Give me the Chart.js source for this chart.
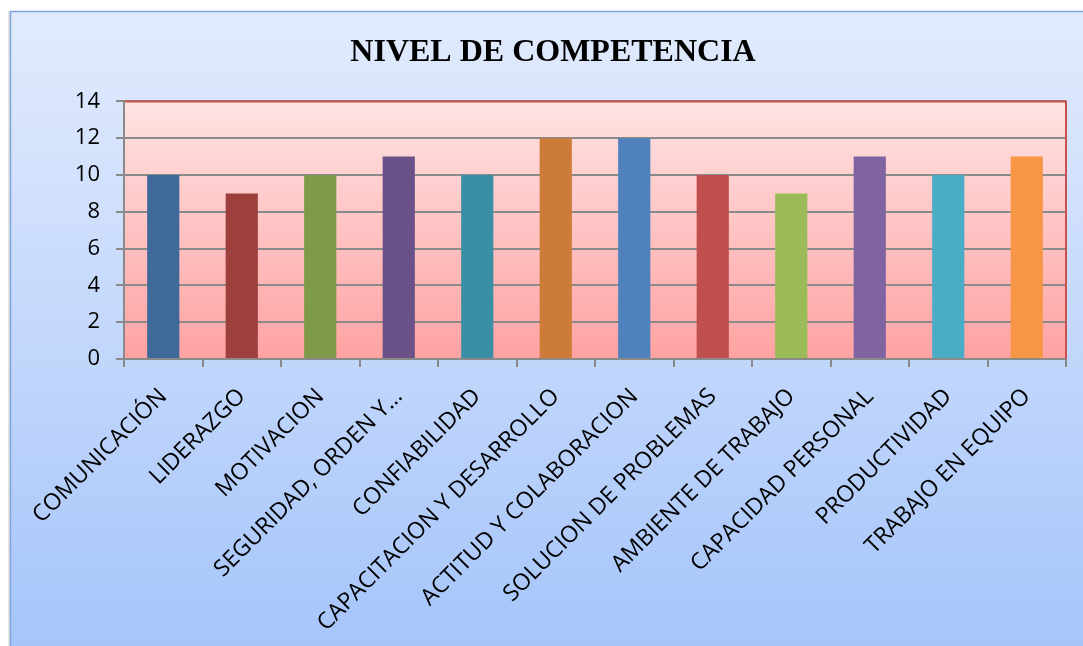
<!DOCTYPE html>
<html>
<head>
<meta charset="utf-8">
<script src="https://cdn.jsdelivr.net/npm/chart.js@4"></script>
<style>
  html, body { margin: 0; padding: 0; background: #fff; }
  #wrap { width: 1083px; height: 646px; position: relative; }
</style>
</head>
<body>
<div id="wrap"><canvas id="canvas_nivel"></canvas></div>
<script>
// competencias evaluadas
var competencias = [
  "COMUNICACIÓN",
  "LIDERAZGO",
  "MOTIVACION",
  "SEGURIDAD, ORDEN Y…",
  "CONFIABILIDAD",
  "CAPACITACION Y DESARROLLO",
  "ACTITUD Y COLABORACION",
  "SOLUCION DE PROBLEMAS",
  "AMBIENTE DE TRABAJO",
  "CAPACIDAD PERSONAL",
  "PRODUCTIVIDAD",
  "TRABAJO EN EQUIPO"
];
var nivel = [10, 9, 10, 11, 10, 12, 12, 10, 9, 11, 10, 11];
var colores = [
  "#3F6998", "#9C3F3D", "#7F9A48", "#6A5187", "#3B8FA4", "#CC7B38",
  "#4F81BD", "#C0504D", "#9BBB59", "#8064A2", "#4BACC6", "#F79646"
];
var ejeY = { min: 0, max: 14, paso: 2 };

// fondo del grafico y del area de trazado
var fondo = {
  id: "fondo",
  beforeDraw: function (chart) {
    var ctx = chart.ctx;
    var w = chart.width, h = chart.height;
    ctx.save();
    ctx.fillStyle = "#ffffff";
    ctx.fillRect(0, 0, w, h);
    var g = ctx.createLinearGradient(0, 11, 0, h);
    g.addColorStop(0, "#E2EBFD");
    g.addColorStop(1, "#A6C5FA");
    ctx.fillStyle = g;
    ctx.fillRect(10, 11, w - 10, h - 11);
    ctx.strokeStyle = "#C8C8C8";
    ctx.lineWidth = 1;
    ctx.beginPath();
    ctx.moveTo(9, h);
    ctx.lineTo(9, 11);
    ctx.stroke();
    ctx.strokeStyle = "#7FA6DA";
    ctx.lineWidth = 1.5;
    ctx.beginPath();
    ctx.moveTo(10.5, h);
    ctx.lineTo(10.5, 11.5);
    ctx.lineTo(w, 11.5);
    ctx.stroke();

    var a = chart.chartArea;
    var p = ctx.createLinearGradient(0, a.top, 0, a.bottom);
    p.addColorStop(0, "#FFE3E3");
    p.addColorStop(1, "#FFA2A2");
    ctx.fillStyle = p;
    ctx.fillRect(a.left, a.top, a.right - a.left, a.bottom - a.top);
    ctx.restore();
  },
  afterDraw: function (chart) {
    var ctx = chart.ctx;
    var a = chart.chartArea;
    ctx.save();
    ctx.strokeStyle = "#C9504D";
    ctx.lineWidth = 2;
    ctx.beginPath();
    ctx.moveTo(a.left + 1, a.top);
    ctx.lineTo(a.right, a.top);
    ctx.lineTo(a.right, a.bottom);
    ctx.stroke();
    ctx.restore();
  }
};

var ctx = document.getElementById("canvas_nivel").getContext("2d");
window.nivel = new Chart(ctx, {
  type: "bar",
  data: {
    labels: competencias,
    datasets: [{
      label: "Nivel",
      data: nivel,
      backgroundColor: colores,
      borderWidth: 0,
      barPercentage: 0.41,
      categoryPercentage: 1.0
    }]
  },
  options: {
    responsive: true,
    maintainAspectRatio: false,
    animation: false,
    layout: { padding: { top: 20, left: 40, right: 17, bottom: 0 } },
    plugins: {
      legend: { display: false },
      tooltip: { enabled: false },
      title: {
        display: true,
        text: "NIVEL DE COMPETENCIA",
        color: "#000",
        font: { family: "'Liberation Serif', 'Times New Roman', serif", size: 32, weight: "bold", lineHeight: 1.2 },
        padding: { top: 14, bottom: 29 }
      }
    },
    scales: {
      x: {
        grid: {
          display: true,
          drawOnChartArea: false,
          offset: true,
          tickLength: 8,
          color: "#8A8A8A",
          lineWidth: 2
        },
        border: { display: true, color: "#8A8A8A", width: 2 },
        ticks: {
          autoSkip: false,
          maxRotation: 45,
          minRotation: 45,
          padding: 16,
          color: "#000",
          font: { family: "'Open Sans', sans-serif", size: 23 }
        },
        afterFit: function (scale) { scale.height = 287; }
      },
      y: {
        min: ejeY.min,
        max: ejeY.max,
        grid: { color: "#8A8A8A", lineWidth: 2, tickLength: 8 },
        border: { display: true, color: "#8A8A8A", width: 2 },
        ticks: {
          stepSize: ejeY.paso,
          padding: 16,
          color: "#000",
          font: { family: "'Open Sans', sans-serif", size: 22 }
        },
        afterFit: function (scale) { scale.width = 84; }
      }
    }
  },
  plugins: [fondo]
});
</script>
</body>
</html>
